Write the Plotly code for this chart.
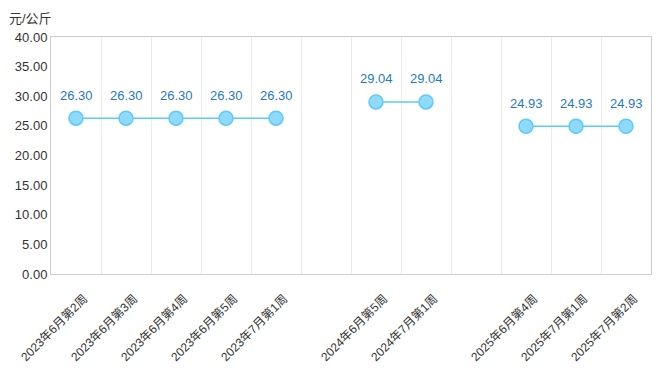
import plotly.graph_objects as go

categories = ["2023年6月第2周", "2023年6月第3周", "2023年6月第4周", "2023年6月第5周", "2023年7月第1周",
              " ", "2024年6月第5周", "2024年7月第1周", "  ",
              "2025年6月第4周", "2025年7月第1周", "2025年7月第2周"]
prices = [26.30, 26.30, 26.30, 26.30, 26.30, None, 29.04, 29.04, None, 24.93, 24.93, 24.93]
y_ticks = [0, 5, 10, 15, 20, 25, 30, 35, 40]
unit = "元/公斤"

FONT = "Liberation Sans, Arial, Noto Sans CJK SC, sans-serif"

fig = go.Figure()
fig.add_trace(go.Scatter(
    x=categories, y=prices, mode="lines+markers", connectgaps=False,
    line=dict(color="#5ccafa", width=1.5),
    marker=dict(size=14, color="#8fd9fb", line=dict(color="#5ccafa", width=1.5)),
    hoverinfo="skip", cliponaxis=False,
))

for c, v in zip(categories, prices):
    if v is not None:
        fig.add_annotation(x=c, y=v, text=f"{v:.2f}", showarrow=False,
                           yshift=23, font=dict(size=13, color="#1f78c8", family=FONT))

fig.add_annotation(xref="paper", yref="paper", x=0, y=1, text=unit, showarrow=False,
                   xanchor="right", yanchor="bottom", xshift=3, yshift=9,
                   font=dict(size=13, color="#333", family=FONT))

fig.update_layout(
    width=653, height=365,
    margin=dict(l=43, r=10, t=29, b=99, autoexpand=False),
    paper_bgcolor="white", plot_bgcolor="white",
    showlegend=False,
    font=dict(family=FONT, size=13, color="#333"),
    xaxis=dict(type="category", categoryorder="array", categoryarray=categories,
               range=[-0.5, len(categories) - 0.5],
               tickangle=-45, tickson="boundaries", ticks="", automargin=False,
               ticklabelstandoff=12, ticklabelshift=8,
               showgrid=True, gridcolor="#ececec", gridwidth=1,
               showline=True, linecolor="#cccccc", mirror=True,
               tickfont=dict(size=12, color="#333"), fixedrange=True),
    yaxis=dict(range=[0, 40], tickvals=y_ticks, tickformat=".2f", automargin=False,
               showgrid=False, zeroline=False,
               showline=True, linecolor="#cccccc", mirror=True,
               ticks="", tickfont=dict(size=13, color="#333"), fixedrange=True),
)

fig.write_html("out.html")
